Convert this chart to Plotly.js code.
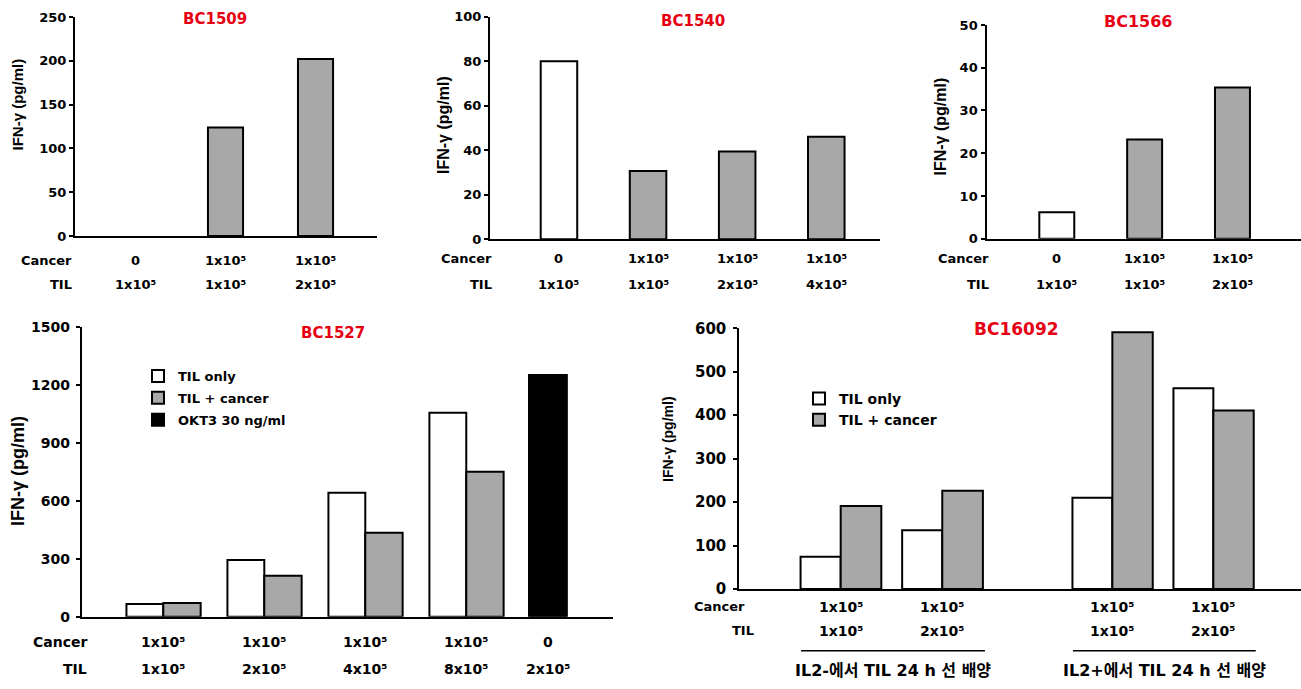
<!DOCTYPE html>
<html>
<head>
<meta charset="utf-8">
<script src="https://cdn.plot.ly/plotly-3.0.1.min.js"></script>
<style>html,body{margin:0;padding:0;background:#fff;}#chart{width:1301px;height:689px;}</style>
</head>
<body>
<div id="chart"></div>
<script>
// ---------------- DATA ----------------
const sup5 = n => n + "x10\u2075";

// BC1509
const bc1509_cancer = ["0", sup5(1), sup5(1)];
const bc1509_til    = [sup5(1), sup5(1), sup5(2)];
const bc1509_ifng   = [0, 124, 202];

// BC1540
const bc1540_cancer = ["0", sup5(1), sup5(1), sup5(1)];
const bc1540_til    = [sup5(1), sup5(1), sup5(2), sup5(4)];
const bc1540_ifng   = [80, 30.7, 39.4, 46.1];

// BC1566
const bc1566_cancer = ["0", sup5(1), sup5(1)];
const bc1566_til    = [sup5(1), sup5(1), sup5(2)];
const bc1566_ifng   = [6.2, 23.2, 35.4];

// BC1527
const bc1527_cancer    = [sup5(1), sup5(1), sup5(1), sup5(1), "0"];
const bc1527_til       = [sup5(1), sup5(2), sup5(4), sup5(8), sup5(2)];
const bc1527_tilOnly   = [66, 293, 641, 1055];
const bc1527_tilCancer = [71, 212, 434, 750];
const bc1527_okt3      = [1250];

// BC16092
const bc16092_groups     = ["IL2-에서 TIL 24 h 선 배양", "IL2+에서 TIL 24 h 선 배양"];
const bc16092_cancer     = [sup5(1), sup5(1), sup5(1), sup5(1)];
const bc16092_til        = [sup5(1), sup5(2), sup5(1), sup5(2)];
const bc16092_tilOnly    = [74, 135, 210, 462];
const bc16092_tilCancer  = [191, 226, 591, 411];

const legendNames = ["TIL only", "TIL + cancer", "OKT3 30 ng/ml"];
const panelTitles = ["BC1509", "BC1540", "BC1566", "BC1527", "BC16092"];
const yTitle = "IFN-γ (pg/ml)";

// ---------------- HELPERS ----------------
const W = 1301, H = 689;
const px = x => x / W;
const py = y => 1 - y / H;
const keys = (c, t) => c.map((v, i) => v + " | " + t[i]);

const WHITE = "#ffffff", GRAY = "#a8a8a8", BLACK = "#000000";
const LINE = {color: "#000", width: 2};
const LBL = "DejaVu Sans, Verdana, Noto Sans CJK KR, sans-serif";
const ARIAL = "Liberation Sans, Arial, sans-serif";
const RED = "#e60012";

const traces = [];
const annotations = [];
const shapes = [];

function simplePanel(n, cancer, til, vals, width) {
  const k = keys(cancer, til);
  traces.push({
    type: "bar", x: k, y: vals, width: width,
    xaxis: "x" + n, yaxis: "y" + n, showlegend: false,
    marker: {color: cancer.map(c => c === "0" ? WHITE : GRAY),
             line: {color: "#000", width: vals.map(v => v > 0 ? 2 : 0)}},
    hoverinfo: "x+y"
  });
}
simplePanel(1, bc1509_cancer, bc1509_til, bc1509_ifng, 0.39);
simplePanel(2, bc1540_cancer, bc1540_til, bc1540_ifng, 0.41);
simplePanel(3, bc1566_cancer, bc1566_til, bc1566_ifng, 0.398);

// BC1527
const k4 = keys(bc1527_cancer, bc1527_til);
const okt3Offset = -0.379, okt3Width = 0.375;
traces.push({type: "bar", name: legendNames[0], x: k4.slice(0, 4), y: bc1527_tilOnly, offset: -0.365, width: 0.365,
  xaxis: "x4", yaxis: "y4", legend: "legend", legendgroup: "a", marker: {color: WHITE, line: LINE}});
traces.push({type: "bar", name: legendNames[1], x: k4.slice(0, 4), y: bc1527_tilCancer, offset: 0, width: 0.37,
  xaxis: "x4", yaxis: "y4", legend: "legend", legendgroup: "b", marker: {color: GRAY, line: LINE}});
traces.push({type: "bar", name: legendNames[2], x: k4.slice(4), y: bc1527_okt3, offset: okt3Offset, width: okt3Width,
  xaxis: "x4", yaxis: "y4", legend: "legend", legendgroup: "c", marker: {color: BLACK, line: LINE}});

// BC16092 (two halves sharing one y axis)
const k5 = keys(bc16092_cancer, bc16092_til);
[[0, "x5"], [2, "x6"]].forEach(([s, xa], h) => {
  traces.push({type: "bar", name: legendNames[0], x: k5.slice(s, s + 2), y: bc16092_tilOnly.slice(s, s + 2),
    offset: -0.395, width: 0.395, xaxis: xa, yaxis: "y5", legend: "legend2", legendgroup: "a5",
    showlegend: h === 0, marker: {color: WHITE, line: LINE}});
  traces.push({type: "bar", name: legendNames[1], x: k5.slice(s, s + 2), y: bc16092_tilCancer.slice(s, s + 2),
    offset: 0, width: 0.4, xaxis: xa, yaxis: "y5", legend: "legend2", legendgroup: "b5",
    showlegend: h === 0, marker: {color: GRAY, line: LINE}});
});

// ---------------- AXES ----------------
function yax(dom, range, dtick, size, family, standoff) {
  return {domain: dom, range: range, dtick: dtick, tick0: 0, showgrid: false, zeroline: false,
    showline: true, linecolor: "#000", linewidth: 2, ticks: "outside", ticklen: 4, tickwidth: 1.5,
    tickcolor: "#000", ticklabelstandoff: standoff || 0,
    tickfont: {family: family || LBL, size: size, color: "#000", weight: "bold"}, fixedrange: true};
}
function xax(dom, range, anchor, cats) {
  return {domain: dom, range: range, anchor: anchor, type: "category", categoryorder: "array",
    categoryarray: cats, showgrid: false, zeroline: false, showline: true, linecolor: "#000",
    linewidth: 2, ticks: "", showticklabels: false, fixedrange: true};
}

const layout = {
  width: W, height: H, margin: {l: 0, r: 0, t: 0, b: 0},
  paper_bgcolor: "#fff", plot_bgcolor: "rgba(0,0,0,0)",
  barmode: "overlay", showlegend: true, hovermode: false,
  xaxis:  xax([px(75), px(377)], [-0.672, 2.683], "y", keys(bc1509_cancer, bc1509_til)),
  yaxis:  yax([py(236), py(17)], [0, 250], 50, 13),
  xaxis2: xax([px(490), px(880)], [-0.774, 3.603], "y2", keys(bc1540_cancer, bc1540_til)),
  yaxis2: Object.assign(yax([py(239.3), py(16.7)], [0, 100], 20, 13), {anchor: "x2"}),
  xaxis3: xax([px(987.3), 1], [-0.791, 2.78], "y3", keys(bc1566_cancer, bc1566_til)),
  yaxis3: Object.assign(yax([py(238.7), py(25)], [0, 50], 10, 13, LBL, 1), {anchor: "x3"}),
  xaxis4: xax([px(81.7), px(612.7)], [-0.808, 4.45], "y4", k4),
  yaxis4: Object.assign(yax([py(616.7), py(326.7)], [0, 1500], 300, 14, LBL, 3), {anchor: "x4"}),
  xaxis5: xax([px(739.3), px(1027)], [-0.998, 1.834], "y5", k5.slice(0, 2)),
  xaxis6: xax([px(1027), 1], [-0.845, 1.868], "y5", k5.slice(2)),
  yaxis5: Object.assign(yax([py(589), py(328.3)], [0, 600], 100, 15, LBL, 4), {anchor: "x5"}),
  legend: {x: px(138), y: py(361), xanchor: "left", yanchor: "top", bgcolor: "rgba(0,0,0,0)",
    font: {family: LBL, size: 13, color: "#000", weight: "bold"}, tracegroupgap: 2, itemwidth: 30,
    traceorder: "grouped"},
  legend2: {x: px(799), y: py(383), xanchor: "left", yanchor: "top", bgcolor: "rgba(0,0,0,0)",
    font: {family: LBL, size: 14, color: "#000", weight: "bold"}, tracegroupgap: 0, itemwidth: 30,
    traceorder: "grouped"},
  annotations: annotations, shapes: shapes
};

// ---------------- TEXT ----------------
function txt(x, y, text, size, opts) {
  annotations.push(Object.assign({x: px(x), y: py(y), xref: "paper", yref: "paper", text: text,
    showarrow: false, xanchor: "center", yanchor: "middle",
    font: {family: LBL, size: size, color: "#000", weight: "bold"}}, opts || {}));
}
// panel titles
[[215, 19, 15], [692.7, 21, 15], [1138, 21, 16], [333, 333, 15], [1016.7, 329, 17]].forEach((p, i) => {
  txt(p[0], p[1], panelTitles[i], p[2], {font: {family: LBL, size: p[2], color: RED, weight: "bold"}});
});
// y titles
[[17.5, 105, 15], [443, 125, 16], [940, 126.5, 16], [18.5, 471.5, 18], [668, 439, 14]].forEach(p => {
  txt(p[0], p[1], yTitle, p[2], {textangle: -90, font: {family: ARIAL, size: p[2], color: "#000", weight: "bold"}});
});
// row headers
function rowHead(xr, yc, yt, size, xrT) {
  txt(xr, yc, "Cancer", size, {xanchor: "right"});
  txt(xrT || xr, yt, "TIL", size, {xanchor: "right"});
}
rowHead(74, 260, 284, 13);
rowHead(494, 258, 284, 13);
rowHead(990.7, 258.5, 284.5, 13);
rowHead(89, 641.5, 668.5, 14);
rowHead(746.7, 606.7, 630.7, 13, 756);

// category labels under bars (positioned on the library's category scale)
function catLabels(xref, cancer, til, yc, yt, size, shiftFn) {
  cancer.forEach((c, i) => {
    const xi = shiftFn ? shiftFn(i) : i;
    annotations.push({x: xi, y: py(yc), xref: xref, yref: "paper", text: c, showarrow: false,
      xanchor: "center", yanchor: "middle", font: {family: LBL, size: size, color: "#000", weight: "bold"}});
    annotations.push({x: xi, y: py(yt), xref: xref, yref: "paper", text: til[i], showarrow: false,
      xanchor: "center", yanchor: "middle", font: {family: LBL, size: size, color: "#000", weight: "bold"}});
  });
}
catLabels("x", bc1509_cancer, bc1509_til, 260, 284, 13);
catLabels("x2", bc1540_cancer, bc1540_til, 258, 284, 13);
catLabels("x3", bc1566_cancer, bc1566_til, 258.5, 284.5, 13);
catLabels("x4", bc1527_cancer, bc1527_til, 641.5, 668.5, 14,
  i => i === 4 ? i + okt3Offset + okt3Width / 2 : i);
catLabels("x5", bc16092_cancer.slice(0, 2), bc16092_til.slice(0, 2), 606.7, 630.7, 14);
catLabels("x6", bc16092_cancer.slice(2), bc16092_til.slice(2), 606.7, 630.7, 14);

// group brackets and labels for BC16092
["x5", "x6"].forEach((xa, g) => {
  shapes.push({type: "line", xref: xa, yref: "paper", x0: -0.39, x1: 1.42, y0: py(650.7), y1: py(650.7),
    line: {color: "#000", width: 1.5}});
  annotations.push({x: 0.515, y: py(670), xref: xa, yref: "paper", text: bc16092_groups[g], showarrow: false,
    xanchor: "center", yanchor: "middle", font: {family: LBL, size: 16, color: "#000", weight: "bold"}});
});

Plotly.newPlot("chart", traces, layout, {displayModeBar: false, responsive: false});
</script>
</body>
</html>
